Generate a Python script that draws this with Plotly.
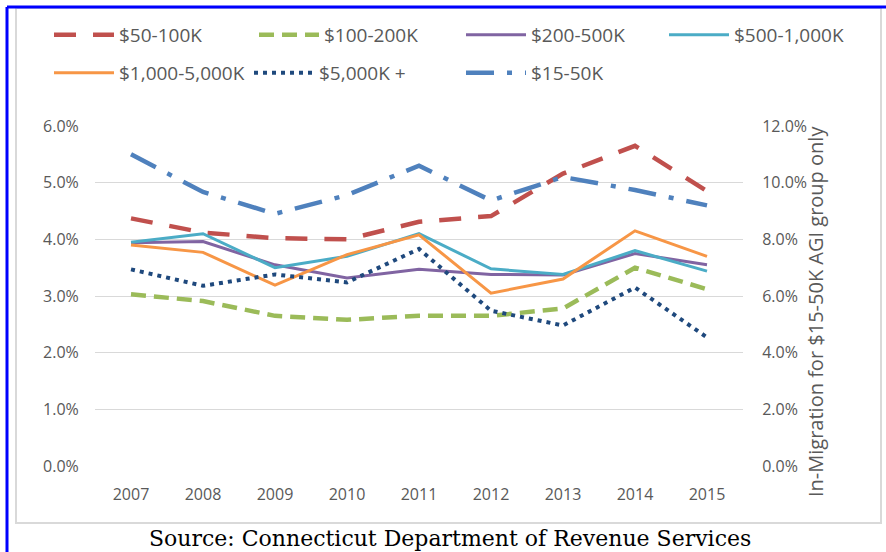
import plotly.graph_objects as go

years = ["2007", "2008", "2009", "2010", "2011", "2012", "2013", "2014", "2015"]
agi_50_100k = [4.37, 4.12, 4.02, 4.00, 4.31, 4.41, 5.16, 5.65, 4.85]
agi_100_200k = [3.03, 2.91, 2.65, 2.58, 2.65, 2.65, 2.78, 3.50, 3.12]
agi_200_500k = [3.94, 3.96, 3.55, 3.32, 3.47, 3.38, 3.37, 3.75, 3.55]
agi_500_1000k = [3.95, 4.10, 3.50, 3.70, 4.10, 3.48, 3.38, 3.80, 3.44]
agi_1000_5000k = [3.90, 3.77, 3.19, 3.73, 4.08, 3.05, 3.30, 4.15, 3.70]
agi_5000k_plus = [3.47, 3.18, 3.38, 3.24, 3.83, 2.74, 2.48, 3.15, 2.27]
agi_15_50k = [11.0, 9.67, 8.90, 9.56, 10.6, 9.37, 10.2, 9.74, 9.20]

W, H = 886, 552
L, R, T, B = 95, 743, 126, 466


def px_x(p):
    return (p - L) / (R - L)


def px_y(p):
    return (B - p) / (B - T)


FONT = "Open Sans, Lato, sans-serif"
GREY = "#595959"

# (legend id, left px, center y px) for each legend entry
legend_slots = [
    ("legend", 49, 35), ("legend2", 254, 35), ("legend3", 461, 35), ("legend4", 664, 35),
    ("legend5", 49, 73), ("legend6", 249, 73), ("legend7", 461, 73),
]

fig = go.Figure()

fig.add_trace(go.Scatter(x=years, y=agi_50_100k, name="$50-100K", mode="lines",
                         line=dict(color="#C0504D", width=4.5, dash="22px,17px"), legend="legend"))
fig.add_trace(go.Scatter(x=years, y=agi_100_200k, name="$100-200K", mode="lines",
                         line=dict(color="#9BBB59", width=4.5, dash="15px,8px"), legend="legend2"))
fig.add_trace(go.Scatter(x=years, y=agi_200_500k, name="$200-500K", mode="lines",
                         line=dict(color="#8064A2", width=3), legend="legend3"))
fig.add_trace(go.Scatter(x=years, y=agi_500_1000k, name="$500-1,000K", mode="lines",
                         line=dict(color="#4BACC6", width=3), legend="legend4"))
fig.add_trace(go.Scatter(x=years, y=agi_1000_5000k, name="$1,000-5,000K", mode="lines",
                         line=dict(color="#F79646", width=3), legend="legend5"))
fig.add_trace(go.Scatter(x=years, y=agi_5000k_plus, name="$5,000K +", mode="lines",
                         line=dict(color="#1F497D", width=4, dash="4px,5px"), legend="legend6"))
fig.add_trace(go.Scatter(x=years, y=agi_15_50k, name="$15-50K", mode="lines", yaxis="y2",
                         line=dict(color="#4F81BD", width=4.5, dash="28px,13px,5px,13px"), legend="legend7"))

leg_common = dict(orientation="h", xanchor="left", yanchor="middle",
                  font=dict(family=FONT, size=19, color=GREY),
                  bgcolor="rgba(0,0,0,0)", borderwidth=0, itemwidth=60)

legends = {lid: dict(x=px_x(lx), y=px_y(ly), **leg_common) for lid, lx, ly in legend_slots}

fig.update_layout(
    width=W, height=H,
    margin=dict(l=L, r=W - R, t=T, b=H - B, autoexpand=False),
    paper_bgcolor="white", plot_bgcolor="white",
    showlegend=True,
    xaxis=dict(type="category", range=[-0.5, 8.5], showgrid=False, zeroline=False,
               showline=False, ticks="outside", ticklen=14, tickcolor="rgba(0,0,0,0)",
               tickfont=dict(family=FONT, size=16, color=GREY)),
    yaxis=dict(range=[0, 6], dtick=1, tickformat=".1f", ticksuffix="%",
               showgrid=True, gridcolor="#D9D9D9", gridwidth=1, zeroline=False,
               showline=False, ticks="outside", ticklen=12, tickcolor="rgba(0,0,0,0)",
               tickfont=dict(family=FONT, size=16, color=GREY)),
    yaxis2=dict(range=[0, 12], dtick=2, tickformat=".1f", ticksuffix="%",
                overlaying="y", side="right", showgrid=False, zeroline=False,
                showline=False, ticks="outside", ticklen=15, tickcolor="rgba(0,0,0,0)",
                tickfont=dict(family=FONT, size=16, color=GREY)),
    **legends,
)

# frame lines
fig.add_shape(type="rect", xref="paper", yref="paper",
              x0=px_x(16), x1=px_x(881), y0=px_y(523), y1=px_y(8),
              line=dict(color="#D9D9D9", width=2), fillcolor="rgba(0,0,0,0)", layer="below")
fig.add_shape(type="line", xref="paper", yref="paper",
              x0=px_x(7), x1=px_x(7), y0=px_y(7), y1=px_y(560),
              line=dict(color="#0000FF", width=3))
fig.add_shape(type="line", xref="paper", yref="paper",
              x0=px_x(7), x1=px_x(890), y0=px_y(7), y1=px_y(7),
              line=dict(color="#0000FF", width=3))

fig.add_annotation(text="In-Migration for $15-50K AGI group only", textangle=-90,
                   xref="paper", yref="paper", x=px_x(815), y=px_y(312),
                   xanchor="center", yanchor="middle", showarrow=False,
                   font=dict(family=FONT, size=20, color=GREY))
fig.add_annotation(text="Source: Connecticut Department of Revenue Services",
                   xref="paper", yref="paper", x=px_x(450), y=px_y(538),
                   xanchor="center", yanchor="middle", showarrow=False,
                   font=dict(family="DejaVu Serif, serif", size=22, color="#000000"))

fig.write_html("out.html", config={"displayModeBar": False},
               post_script="document.body.style.margin='0';")
